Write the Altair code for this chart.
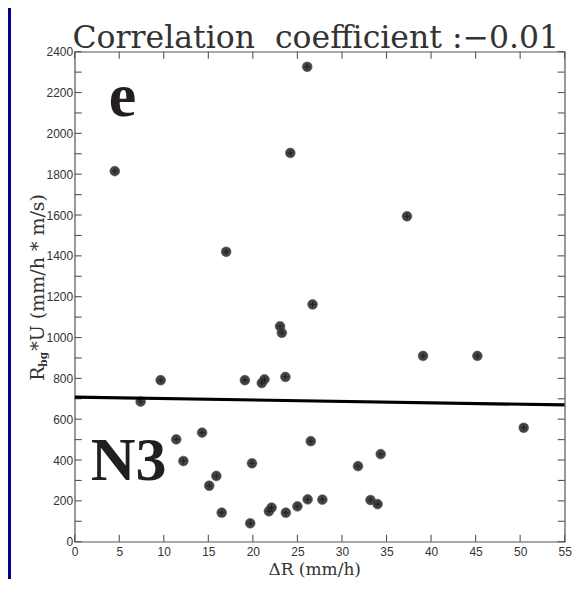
import altair as alt
import pandas as pd

# ---- data ----
delta_r = [4.5, 7.4, 9.65, 11.4, 12.2, 14.3, 15.1, 15.9, 16.5, 17.0,
           19.1, 19.7, 19.9, 21.0, 21.3, 21.8, 22.1, 23.05, 23.25, 23.65,
           23.7, 24.2, 25.0, 26.1, 26.15, 26.5, 26.7, 27.8, 31.8, 33.2,
           34.0, 34.35, 37.3, 39.1, 45.2, 50.4]
rbg_u = [1815, 686, 791, 501, 395, 534, 274, 322, 142, 1420,
         791, 90, 384, 777, 795, 149, 167, 1055, 1023, 807,
         142, 1904, 173, 2326, 207, 492, 1162, 206, 370, 204,
         184, 429, 1594, 910, 910, 558]

fit_x = [0, 55]
fit_y = [708, 670]

x_labels = [0, 5, 10, 15, 20, 25, 30, 35, 40, 45, 50, 55]
y_labels = [0, 200, 400, 600, 800, 1000, 1200, 1400, 1600, 1800, 2000, 2200, 2400]
y_ticks = [0, 100, 200, 300, 400, 500, 600, 700, 800, 900, 1000, 1100, 1200,
           1300, 1400, 1500, 1600, 1700, 1800, 1900, 2000, 2100, 2200, 2300, 2400]

title_text = "Correlation\u00a0 coefficient :\u22120.01"
x_title = "\u0394R (mm/h)"
y_title_main = "R"
y_title_sub = "bg"
y_title_rest = " *U (mm/h * m/s)"
panel_letter = "e"
panel_tag = "N3"

# ---- layout ----
W, H = 490, 490
TICK = 7
FRAME = "#555555"
INK = "#231f20"

pts = pd.DataFrame({"dr": delta_r, "ru": rbg_u})
fit = pd.DataFrame({"dr": fit_x, "ru": fit_y})
xt = pd.DataFrame({"v": x_labels})
yt = pd.DataFrame({"v": y_ticks})
one = alt.Data(values=[{"k": 0}])

xs = alt.Scale(domain=[0, 55], nice=False, zero=False)
ys = alt.Scale(domain=[0, 2400], nice=False, zero=False)

X_AX = alt.Axis(title=None, values=x_labels, format="d", ticks=False, tickSize=0, domain=False,
                grid=False, labelPadding=5, labelFont="Liberation Sans", labelFontSize=12,
                labelColor="#333333", labelFlush=False, orient="bottom")
Y_AX = alt.Axis(title=None, values=y_labels, format="d", ticks=False, tickSize=0, domain=False,
                grid=False, labelPadding=2, labelFont="Liberation Sans", labelFontSize=12,
                labelColor="#333333", labelFlush=False, orient="left")

blue = alt.Chart(one).mark_rect(color="#00008f").encode(
    x=alt.value(-66.7), x2=alt.value(-63.7), y=alt.value(-60), y2=alt.value(H + 60))

tick_style = dict(color=FRAME, strokeWidth=1.1)
bottom_ticks = alt.Chart(xt).mark_rule(**tick_style).encode(
    x=alt.X("v:Q", scale=xs, axis=X_AX), y=alt.value(H), y2=alt.value(H - TICK))
top_ticks = alt.Chart(xt).mark_rule(**tick_style).encode(
    x=alt.X("v:Q", scale=xs, axis=X_AX), y=alt.value(0), y2=alt.value(TICK))
left_ticks = alt.Chart(yt).mark_rule(**tick_style).encode(
    y=alt.Y("v:Q", scale=ys, axis=Y_AX), x=alt.value(0), x2=alt.value(TICK))
right_ticks = alt.Chart(yt).mark_rule(**tick_style).encode(
    y=alt.Y("v:Q", scale=ys, axis=Y_AX), x=alt.value(W), x2=alt.value(W - TICK))

fit_line = alt.Chart(fit).mark_line(color="black", strokeWidth=3.2, clip=True).encode(
    x=alt.X("dr:Q", scale=xs, axis=X_AX), y=alt.Y("ru:Q", scale=ys, axis=Y_AX))

dots = alt.Chart(pts).mark_point(shape="circle", filled=True, size=95, color="#3a3a3a",
                                 opacity=0.95, stroke="#4a4a4a", strokeWidth=0.6).encode(
    x=alt.X("dr:Q", scale=xs, axis=X_AX), y=alt.Y("ru:Q", scale=ys, axis=Y_AX))
crosses = alt.Chart(pts).mark_point(shape="M-0.8,0L0.8,0M0,-0.8L0,0.8", filled=False,
                                    size=50, color="#111111", strokeWidth=1).encode(
    x=alt.X("dr:Q", scale=xs, axis=X_AX), y=alt.Y("ru:Q", scale=ys, axis=Y_AX))


def label(s, x, y, **kw):
    return alt.Chart(one).mark_text(text=s, **kw).encode(x=alt.value(x), y=alt.value(y))


title = label(title_text, 241, -4, font="DejaVu Serif", fontSize=31.5, color="#333333",
              align="center", baseline="alphabetic")
xtitle = label(x_title, 240, 523, font="DejaVu Serif", fontSize=17, color="#333333",
               align="center", baseline="alphabetic")
Y0 = 329
yt1 = label(y_title_main, -31, Y0, font="DejaVu Serif", fontSize=19, color="#333333",
            angle=270, align="left", baseline="alphabetic")
yt2 = label(y_title_sub, -27.5, Y0 - 14, font="DejaVu Serif", fontSize=10.5, fontWeight="bold",
            color="#333333", angle=270, align="left", baseline="alphabetic")
yt3 = label(y_title_rest, -31, Y0 - 30, font="DejaVu Serif", fontSize=19, color="#333333",
            angle=270, align="left", baseline="alphabetic")
letter = label(panel_letter, 34, 64, font="Liberation Serif", fontSize=62, fontWeight="bold",
               color=INK, align="left", baseline="alphabetic")
tag = label(panel_tag, 16, 428, font="Liberation Serif", fontSize=62, fontWeight="bold",
            color=INK, align="left", baseline="alphabetic")

chart = alt.layer(
    blue, bottom_ticks, top_ticks, left_ticks, right_ticks,
    dots, crosses, fit_line,
    title, xtitle, yt1, yt2, yt3, letter, tag,
).properties(
    width=W, height=H,
    padding={"left": 66.7, "top": 43.7, "right": 7, "bottom": 37},
    autosize=alt.AutoSizeParams(type="none"),
    background="white",
).configure_view(stroke=FRAME, strokeWidth=1.2)

chart.save("out.html", embed_options={"renderer": "svg", "actions": False})
